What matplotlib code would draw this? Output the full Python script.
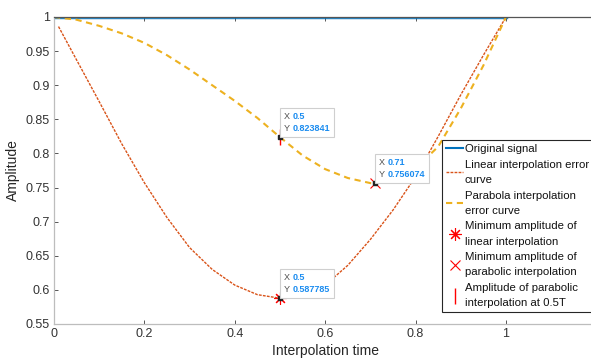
import matplotlib
matplotlib.use("Agg")
import matplotlib.pyplot as plt
from matplotlib.lines import Line2D
from matplotlib.offsetbox import TextArea, HPacker, VPacker, AnnotationBbox

plt.rcParams['font.family'] = ['Liberation Sans', 'DejaVu Sans']

# ---------------- data ----------------
orig_x = [0.0, 1.0]
orig_y = [1.0, 1.0]

lin_x = [0.01, 0.05, 0.10, 0.15, 0.20, 0.25, 0.30, 0.35, 0.40, 0.45, 0.50,
         0.55, 0.60, 0.65, 0.70, 0.75, 0.80, 0.85, 0.90, 0.95, 1.00]
lin_y = [0.986, 0.937, 0.876, 0.814, 0.757, 0.706, 0.662, 0.630, 0.607, 0.593, 0.587785,
         0.591, 0.607, 0.636, 0.674, 0.717, 0.766, 0.825, 0.886, 0.944, 1.000]

par_x = [0.00, 0.05, 0.10, 0.15, 0.20, 0.25, 0.30, 0.35, 0.40, 0.45, 0.50,
         0.55, 0.60, 0.65, 0.70, 0.71, 0.75, 0.80, 0.85, 0.90, 0.95, 1.00]
par_y = [1.000, 0.996, 0.987, 0.976, 0.962, 0.944, 0.923, 0.900, 0.877, 0.852, 0.823841,
         0.797, 0.777, 0.764, 0.7565, 0.756074, 0.760, 0.778, 0.810, 0.866, 0.929, 1.000]

lin_min_x, lin_min_y = 0.5, 0.587785
par_min_x, par_min_y = 0.71, 0.756074
par_half_x, par_half_y = 0.5, 0.823841

xticks = [0, 0.2, 0.4, 0.6, 0.8, 1]
xtick_labels = ['0', '0.2', '0.4', '0.6', '0.8', '1']
yticks = [0.55, 0.6, 0.65, 0.7, 0.75, 0.8, 0.85, 0.9, 0.95, 1.0]
ytick_labels = ['0.55', '0.6', '0.65', '0.7', '0.75', '0.8', '0.85', '0.9', '0.95', '1']

labels = ['Original signal',
          'Linear interpolation error\ncurve',
          'Parabola interpolation\nerror curve',
          'Minimum amplitude of\nlinear interpolation',
          'Minimum amplitude of\nparabolic interpolation',
          'Amplitude of parabolic\ninterpolation at 0.5T']

# ---------------- figure ----------------
W, H = 591, 360
fig = plt.figure(figsize=(W / 100, H / 100), dpi=100)
ax = fig.add_axes([54 / W, 1 - 324 / H, 542.4 / W, 307 / H])

c_blue = '#0072BD'
c_orange = '#D95319'
c_yellow = '#EDB120'

ax.plot(orig_x, orig_y, color=c_blue, lw=3.2, zorder=2, clip_on=True, alpha=0.85)
ax.plot(lin_x, lin_y, color=c_orange, lw=1.0, ls=(0, (2.0, 0.9)), zorder=3)
ax.plot(par_x, par_y, color=c_yellow, lw=1.5, ls=(0, (3, 2.2)), zorder=3)

ast = (8, 2, 0)
ax.plot([lin_min_x], [lin_min_y], ls='none', marker=ast, ms=9, mew=0.8, color='red', zorder=4)
ax.plot([par_min_x], [par_min_y], ls='none', marker='x', ms=7, mew=0.8, color='red', zorder=4)
ax.plot([par_half_x], [par_half_y], ls='none', marker='|', ms=11, mew=1.0, color='red', zorder=4)

# data tip dots
for px, py in [(lin_min_x, lin_min_y), (par_min_x, par_min_y), (par_half_x, par_half_y)]:
    ax.plot([px], [py], ls='none', marker='s', ms=2.2, color='#222222', zorder=5)


def datatip(x, y, xs, ys):
    gray = '#4d4d4d'
    blue = '#1a8cf0'
    fs = 6.5
    r1 = HPacker(children=[TextArea('X ', textprops=dict(color=gray, size=fs)),
                           TextArea(xs, textprops=dict(color=blue, size=fs, weight='bold'))],
                 pad=0, sep=0, align='baseline')
    r2 = HPacker(children=[TextArea('Y ', textprops=dict(color=gray, size=fs)),
                           TextArea(ys, textprops=dict(color=blue, size=fs, weight='bold'))],
                 pad=0, sep=0, align='baseline')
    box = VPacker(children=[r1, r2], pad=0, sep=2.2, align='left')
    ab = AnnotationBbox(box, (x, y), xybox=(3.0, 3.2), boxcoords='offset points',
                        box_alignment=(0, 0),
                        frameon=True, pad=0.3,
                        bboxprops=dict(edgecolor='#cfcfcf', facecolor='white', lw=0.8,
                                       boxstyle='square,pad=0.3'),
                        zorder=6)
    ax.add_artist(ab)


datatip(par_half_x, par_half_y, '0.5', '0.823841')
datatip(par_min_x, par_min_y, '0.71', '0.756074')
datatip(lin_min_x, lin_min_y, '0.5', '0.587785')

ax.set_xlim(0, 1.2)
ax.set_ylim(0.55, 1.0)
ax.set_xticks(xticks)
ax.set_xticklabels(xtick_labels)
ax.set_yticks(yticks)
ax.set_yticklabels(ytick_labels)

ax.tick_params(direction='in', length=3, width=0.7, color='#555555',
               labelcolor='#333333', labelsize=9, top=True, right=True, pad=3)
ax.spines['top'].set_color('#555555')
ax.spines['right'].set_color('#555555')
ax.spines['left'].set_color('#bdbdbd')
ax.spines['bottom'].set_color('#bdbdbd')
for s in ax.spines.values():
    s.set_linewidth(0.9)
    s.set_zorder(5)

ax.set_xlabel('Interpolation time', fontsize=10, color='#262626', labelpad=3)
ax.set_ylabel('Amplitude', fontsize=10, color='#262626', labelpad=4)

handles = [Line2D([], [], color=c_blue, lw=1.5),
           Line2D([], [], color=c_orange, lw=1.0, ls=(0, (2.0, 0.9))),
           Line2D([], [], color=c_yellow, lw=1.5, ls=(0, (3, 2.2))),
           Line2D([], [], ls='none', marker=ast, ms=9, mew=0.8, color='red'),
           Line2D([], [], ls='none', marker='x', ms=7, mew=0.8, color='red'),
           Line2D([], [], ls='none', marker='|', ms=11, mew=1.0, color='red')]

leg = ax.legend(handles, labels, loc='upper left',
                bbox_to_anchor=(442 / W, 1 - 140 / H), bbox_transform=fig.transFigure,
                fontsize=8.2, frameon=True, fancybox=False, framealpha=1,
                edgecolor='#262626', borderpad=0.36, handlelength=1.5,
                handletextpad=0.15, labelspacing=0.5, borderaxespad=0)
leg.get_frame().set_linewidth(0.8)
for t in leg.get_texts():
    t.set_color('#111111')
    t.set_linespacing(1.64)

fig.savefig('out.png', dpi=100)
